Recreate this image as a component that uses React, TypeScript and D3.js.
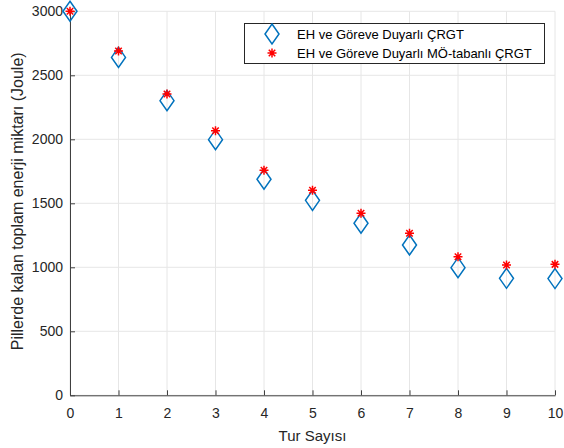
import React, { useEffect, useRef } from "react";
import * as d3 from "d3";

// Tur sayısı (x) ve pillerde kalan enerji (Joule)
const rounds = [0, 1, 2, 3, 4, 5, 6, 7, 8, 9, 10];
const energyCrgt = [3000, 2640, 2302, 1997, 1688, 1523, 1344, 1174, 997, 914, 912];
const energyMoCrgt = [3000, 2690, 2354, 2067, 1758, 1602, 1422, 1266, 1083, 1018, 1023];
const xTicks = [0, 1, 2, 3, 4, 5, 6, 7, 8, 9, 10];
const yTicks = [0, 500, 1000, 1500, 2000, 2500, 3000];
const seriesNames = ["EH ve Göreve Duyarlı ÇRGT", "EH ve Göreve Duyarlı MÖ-tabanlı ÇRGT"];

const W = 564;
const H = 448;
const FONT = "'Liberation Sans', Arial, sans-serif";

export default function App() {
  const ref = useRef<SVGSVGElement>(null);

  useEffect(() => {
    const svg = d3.select(ref.current);
    svg.selectAll("*").remove();

    const x = d3.scaleLinear().domain([0, 10]).range([70, 555]);
    const y = d3.scaleLinear().domain([0, 3000]).range([395.3, 11.3]);

    const g = svg.append("g");

    // grid
    g.append("g")
      .selectAll("line")
      .data(xTicks)
      .join("line")
      .attr("x1", (d) => x(d))
      .attr("x2", (d) => x(d))
      .attr("y1", y(0))
      .attr("y2", y(3000))
      .attr("stroke", "#e6e6e6")
      .attr("stroke-width", 1);
    g.append("g")
      .selectAll("line")
      .data(yTicks)
      .join("line")
      .attr("x1", x(0))
      .attr("x2", x(10))
      .attr("y1", (d) => y(d))
      .attr("y2", (d) => y(d))
      .attr("stroke", "#e6e6e6")
      .attr("stroke-width", 1);

    // axes
    const xAxis = g
      .append("g")
      .attr("transform", `translate(0,${y(0)})`)
      .call(d3.axisBottom(x).tickValues(xTicks).tickSizeInner(-5).tickSizeOuter(0).tickPadding(13).tickFormat(d3.format("d")));
    const yAxis = g
      .append("g")
      .attr("transform", `translate(${x(0)},0)`)
      .call(d3.axisLeft(y).tickValues(yTicks).tickSizeInner(-5).tickSizeOuter(0).tickPadding(7).tickFormat(d3.format("d")));
    [xAxis, yAxis].forEach((a) => {
      a.select(".domain").attr("stroke", "#404040");
      a.selectAll(".tick line").attr("stroke", "#404040");
      a.selectAll(".tick text")
        .attr("fill", "#262626")
        .style("font-family", FONT)
        .style("font-size", "14px");
    });

    // axis labels
    svg
      .append("text")
      .attr("x", x(5))
      .attr("y", 441)
      .attr("text-anchor", "middle")
      .attr("fill", "#262626")
      .style("font-family", FONT)
      .style("font-size", "15px")
      .text("Tur Sayısı");
    svg
      .append("text")
      .attr("transform", `translate(23,${y(1500) - 2}) rotate(-90)`)
      .attr("text-anchor", "middle")
      .attr("fill", "#262626")
      .style("font-family", FONT)
      .style("font-size", "16px")
      .text("Pillerde kalan toplam enerji miktarı (Joule)");

    const diamond = (cx: number, cy: number) =>
      `M${cx},${cy - 10}L${cx + 7},${cy}L${cx},${cy + 10}L${cx - 7},${cy}Z`;
    // MATLAB-style asterisk: plus + cross
    const r = 4.5;
    const c = r * 0.72;
    const star = `M${-r},0L${r},0M0,${-r}L0,${r}M${-c},${-c}L${c},${c}M${-c},${c}L${c},${-c}`;

    const blue = "#0072bd";
    const red = "#ff0000";

    g.append("g")
      .selectAll("path")
      .data(rounds)
      .join("path")
      .attr("d", (d, i) => diamond(x(d), y(energyCrgt[i])))
      .attr("fill", "none")
      .attr("stroke", blue)
      .attr("stroke-width", 1.5);

    g.append("g")
      .selectAll("path")
      .data(rounds)
      .join("path")
      .attr("d", star)
      .attr("transform", (d, i) => `translate(${x(d)},${y(energyMoCrgt[i])})`)
      .attr("fill", "none")
      .attr("stroke", red)
      .attr("stroke-width", 1.5);

    // legend
    const lg = svg.append("g");
    lg.append("rect")
      .attr("x", 244.5)
      .attr("y", 23.5)
      .attr("width", 300)
      .attr("height", 40)
      .attr("fill", "white")
      .attr("stroke", "#262626")
      .attr("stroke-width", 1);
    lg.append("path").attr("d", diamond(272, 34)).attr("fill", "none").attr("stroke", blue).attr("stroke-width", 1.5);
    lg.append("path").attr("d", star).attr("transform", "translate(272,53)").attr("fill", "none").attr("stroke", red).attr("stroke-width", 1.5);
    seriesNames.forEach((name, i) => {
      lg.append("text")
        .attr("x", 297)
        .attr("y", 39 + i * 19)
        .attr("fill", "#000")
        .style("font-family", FONT)
        .style("font-size", "13px")
        .text(name);
    });
  }, []);

  return (
    <svg
      ref={ref}
      width={W}
      height={H}
      style={{ position: "absolute", left: 0, top: 0, background: "white" }}
    />
  );
}
